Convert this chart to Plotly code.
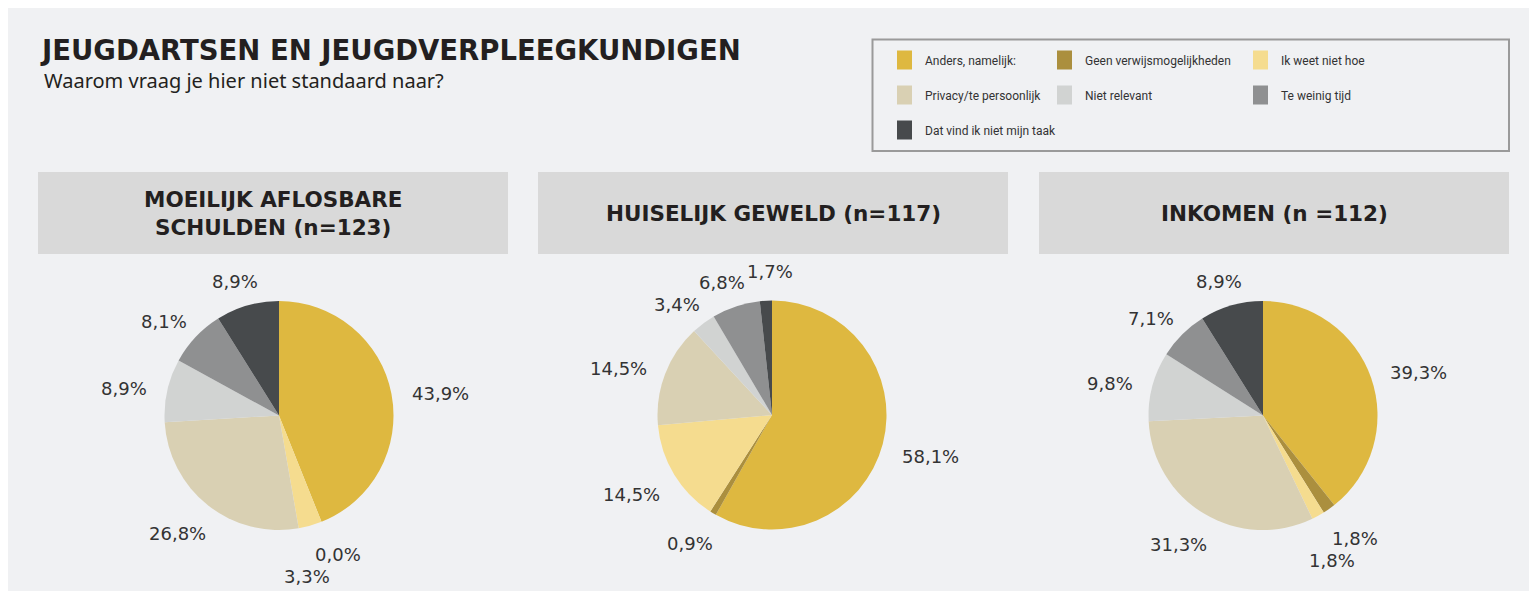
import math
import plotly.graph_objects as go

W, H = 1529, 583   # figure size; the page places it 8 px from the top-left corner
OFF = 8            # page margin offset (reference pixel coords include it)

categories = ["Anders, namelijk:", "Geen verwijsmogelijkheden", "Ik weet niet hoe",
              "Privacy/te persoonlijk", "Niet relevant", "Te weinig tijd",
              "Dat vind ik niet mijn taak"]
colors = ["#DEB840", "#AB8F3E", "#F5DC8F", "#D9D0B3", "#D1D3D2", "#8F9091", "#474A4C"]

titles = ["MOEILIJK AFLOSBARE<br>SCHULDEN (n=123)", "HUISELIJK GEWELD (n=117)", "INKOMEN (n =112)"]
schulden = [43.9, 0.0, 3.3, 26.8, 8.9, 8.1, 8.9]
geweld = [58.1, 0.9, 14.5, 14.5, 3.4, 6.8, 1.7]
inkomen = [39.3, 1.8, 1.8, 31.3, 9.8, 7.1, 8.9]
series = [schulden, geweld, inkomen]

# layout (reference pixels)
centers = [(279, 415.5), (772, 415), (1263, 415.5)]
R = 114.5
boxes = [(38, 508), (538, 1008), (1039, 1509)]
box_y = (172, 254)
BG = "#F0F1F3"
TXT = "#231F20"
TITLE_FONT = "DejaVu Sans"


def px(x):
    return (x - OFF) / W


def py(y):
    return 1 - (y - OFF) / H


fig = go.Figure()
shapes = []
annotations = []

for i, vals in enumerate(series):
    cx, cy = centers[i]
    fig.add_trace(go.Pie(
        values=vals, labels=categories, sort=False, direction="clockwise", rotation=0,
        marker=dict(colors=colors, line=dict(width=0)), textinfo="none",
        domain=dict(x=[px(cx - R), px(cx + R)], y=[py(cy + R), py(cy - R)]),
        showlegend=False, hovertemplate="%{label}: %{value:.1f}%<extra></extra>"))
    # header box
    bx0, bx1 = boxes[i]
    shapes.append(dict(type="rect", xref="paper", yref="paper", x0=px(bx0), x1=px(bx1),
                       y0=py(box_y[1]), y1=py(box_y[0]), fillcolor="#D9D9D9", line=dict(width=0),
                       layer="below"))
    annotations.append(dict(x=px((bx0 + bx1) / 2), y=py((box_y[0] + box_y[1]) / 2 + 1), xref="paper",
                            yref="paper", text=titles[i], showarrow=False, xanchor="center",
                            yanchor="middle",
                            font=dict(family=TITLE_FONT, size=21.5, color=TXT, weight="bold")))
    # percentage labels placed just outside each slice's mid-angle
    total = sum(vals)
    cum = 0.0
    placed = []
    for v in vals:
        mid = (cum + v / 2) / total * 2 * math.pi
        cum += v
        ux, uy = math.sin(mid), -math.cos(mid)
        tx, ty = math.cos(mid), math.sin(mid)          # clockwise tangent
        mx, my = (tx + 0.6 * ux), (ty + 0.6 * uy)
        mn = math.hypot(mx, my)
        mx, my = mx / mn, my / mn
        text = f"{v:.1f}".replace(".", ",") + "%"
        w = len(text) * 11.5
        h = 18
        t = R + 21
        lx = cx + t * ux + w / 2 * ux
        ly = cy + t * uy + h / 2 * uy + 5
        while any(abs(lx - ox) < (w + ow) / 2 + 2 and abs(ly - oy) < 21 for ox, oy, ow in placed):
            lx += mx
            ly += my
        placed.append((lx, ly, w))
        annotations.append(dict(x=px(lx), y=py(ly), xref="paper", yref="paper", text=text,
                                showarrow=False, xanchor="center", yanchor="middle",
                                font=dict(family="DejaVu Sans", size=18, color="#333333")))

# main title
annotations.append(dict(x=px(38), y=py(50), xref="paper", yref="paper",
                        text="JEUGDARTSEN EN JEUGDVERPLEEGKUNDIGEN", showarrow=False,
                        xanchor="left", yanchor="middle",
                        font=dict(family=TITLE_FONT, size=27.5, color=TXT, weight="bold")))
annotations.append(dict(x=px(42), y=py(81), xref="paper", yref="paper",
                        text="Waarom vraag je hier niet standaard naar?", showarrow=False,
                        xanchor="left", yanchor="middle",
                        font=dict(family="Noto Sans", size=20, color=TXT)))

# legend box
shapes.append(dict(type="rect", xref="paper", yref="paper", x0=px(872.5), x1=px(1509), y0=py(151),
                   y1=py(39.5), fillcolor="rgba(0,0,0,0)", line=dict(color="#9A9A9A", width=2)))
leg_cols = [897, 1057, 1253]
leg_rows = [60, 95, 130]
for k, (name, col) in enumerate(zip(categories, colors)):
    r, c = divmod(k, 3)
    x0 = leg_cols[c]
    yc = leg_rows[r]
    shapes.append(dict(type="rect", xref="paper", yref="paper", x0=px(x0), x1=px(x0 + 15),
                       y0=py(yc + 9.5), y1=py(yc - 9.5), fillcolor=col, line=dict(width=0)))
    annotations.append(dict(x=px(x0 + 26), y=py(yc + 1), xref="paper", yref="paper", text=name,
                            showarrow=False, xanchor="left", yanchor="middle",
                            font=dict(family="Roboto", size=12, color="#333333")))

fig.update_layout(width=W, height=H, margin=dict(l=0, r=0, t=0, b=0), paper_bgcolor=BG,
                  plot_bgcolor=BG, shapes=shapes, annotations=annotations)

fig.write_html("out.html")
